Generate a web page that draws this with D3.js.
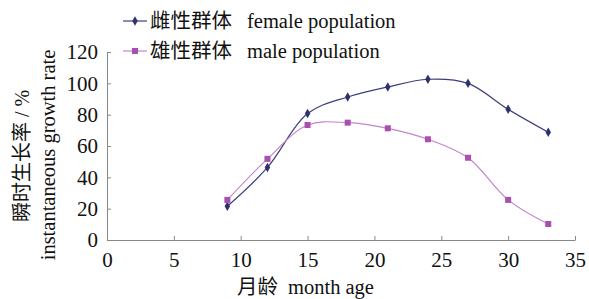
<!DOCTYPE html>
<html>
<head>
<meta charset="utf-8">
<script src="https://cdn.jsdelivr.net/npm/d3@7"></script>
<style>
  body { margin: 0; background: #fff; }
  text { font-family: "Liberation Serif", "Noto Sans CJK SC", serif; fill: #111; }
</style>
</head>
<body>
<svg></svg>
<script>
// month ages
let months = [9, 12, 15, 18, 21, 24, 27, 30, 33]
// instantaneous growth rate, %
let femaleValues = [21.5, 46.3, 80.7, 91.3, 97.7, 102.6, 100, 83.4, 68.8]
let maleValues = [25.6, 51.8, 73.4, 74.9, 71.3, 64.3, 52.5, 25.6, 10.2]

let xTicks = [0, 5, 10, 15, 20, 25, 30, 35]
let yTicks = [0, 20, 40, 60, 80, 100, 120]

let seriesCn = ['雌性群体', '雄性群体']
let seriesEn = ['female population', 'male population']
let seriesColors = ['#2f3070', '#a94fb0']
let lineColors = ['#3c3f7c', '#c285c8']

let width = 589
let height = 299
let padLeft = 107
let padRight = 575
let padTop = 52
let padBottom = 240

let svg = d3.select('svg')
  .attr('width', width)
  .attr('height', height)

let xScale = d3.scaleLinear().domain([0, 35]).range([padLeft, padRight])
let yScale = d3.scaleLinear().domain([0, 120]).range([padBottom, padTop])

// axes, ticks pointing into the plot
let xAxis = d3.axisBottom(xScale).tickValues(xTicks).tickSizeInner(-4).tickSizeOuter(0).tickPadding(10)
let yAxis = d3.axisLeft(yScale).tickValues(yTicks).tickSizeInner(-4).tickSizeOuter(0).tickPadding(10)

let gx = svg.append('g')
  .attr('transform', 'translate(0,' + padBottom + ')')
  .call(xAxis)
let gy = svg.append('g')
  .attr('transform', 'translate(' + padLeft + ',0)')
  .call(yAxis)

svg.selectAll('.domain, .tick line').attr('stroke', '#888').attr('stroke-width', 1)
svg.selectAll('.tick text')
  .style('font-family', '"Liberation Serif", serif')
  .style('font-size', '21px')
  .attr('fill', '#111')
gx.selectAll('.tick text').attr('y', 8).attr('dy', '0.9em')
gy.selectAll('.tick text').attr('x', -9)

// lines
let line = d3.line()
  .x((d, i) => xScale(months[i]))
  .y(d => yScale(d))
  .curve(d3.curveCatmullRom.alpha(0.5))

let allSeries = [femaleValues, maleValues]

allSeries.forEach((vals, s) => {
  svg.append('path')
    .datum(vals)
    .attr('d', line)
    .attr('fill', 'none')
    .attr('stroke', lineColors[s])
    .attr('stroke-width', 1.2)
})

// markers
svg.selectAll('.fem')
  .data(femaleValues)
  .enter()
  .append('path')
  .attr('d', d3.symbol().type(d3.symbolDiamond).size(26))
  .attr('transform', (d, i) => 'translate(' + xScale(months[i]) + ',' + yScale(d) + ')')
  .attr('fill', seriesColors[0])

svg.selectAll('.mal')
  .data(maleValues)
  .enter()
  .append('rect')
  .attr('x', (d, i) => xScale(months[i]) - 3)
  .attr('y', d => yScale(d) - 3)
  .attr('width', 6)
  .attr('height', 6)
  .attr('fill', seriesColors[1])

// legend
let legend = svg.append('g')
seriesCn.forEach((name, s) => {
  let ly = 21 + s * 30
  legend.append('line')
    .attr('x1', 123).attr('x2', 147)
    .attr('y1', ly).attr('y2', ly)
    .attr('stroke', lineColors[s])
    .attr('stroke-width', 1.2)
  if (s === 0) {
    legend.append('path')
      .attr('d', d3.symbol().type(d3.symbolDiamond).size(26))
      .attr('transform', 'translate(135,' + ly + ')')
      .attr('fill', seriesColors[0])
  } else {
    legend.append('rect')
      .attr('x', 132).attr('y', ly - 3)
      .attr('width', 6).attr('height', 6)
      .attr('fill', seriesColors[1])
  }
  let t = legend.append('text')
    .attr('y', ly + 7)
    .style('font-size', '20.5px')
  t.append('tspan').attr('x', 150).style('font-family', '"Noto Sans CJK SC"').text(name)
  t.append('tspan').attr('x', 247).text(seriesEn[s])
})

// axis titles
let xt = svg.append('text')
  .attr('y', 294)
  .style('font-size', '20.5px')
xt.append('tspan').attr('x', 237).style('font-family', '"Noto Sans CJK SC"').text('月龄')
xt.append('tspan').attr('x', 288).text('month age')

svg.append('text')
  .attr('transform', 'translate(29,156) rotate(-90)')
  .attr('text-anchor', 'middle')
  .style('font-size', '20px')
  .text('瞬时生长率 / %')

svg.append('text')
  .attr('transform', 'translate(55,155) rotate(-90)')
  .attr('text-anchor', 'middle')
  .style('font-size', '20.5px')
  .text('instantaneous growth rate')
</script>
</body>
</html>
